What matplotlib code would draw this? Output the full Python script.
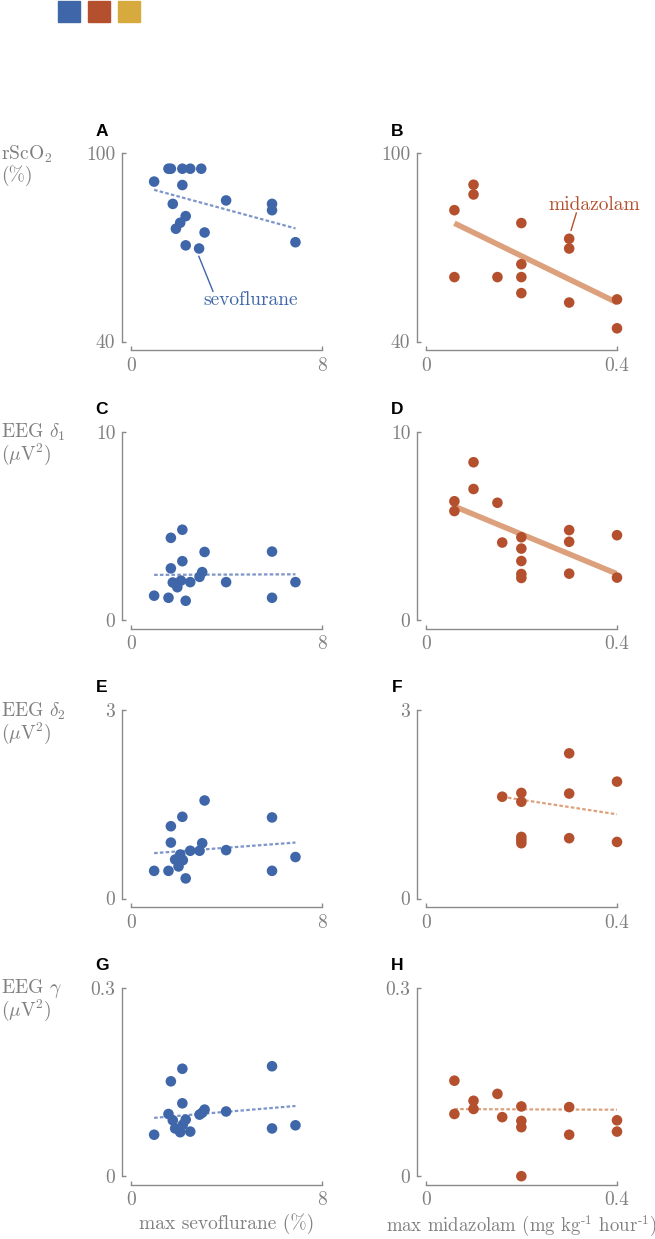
import numpy as np
import matplotlib
matplotlib.use("Agg")
import matplotlib.pyplot as plt
from matplotlib.patches import Rectangle

# ---- data ----
sevo_x_rsco2 = [0.98, 1.58, 1.68, 2.16, 2.49, 2.95, 2.16, 1.76, 3.99, 5.91, 5.91, 2.30, 2.07, 1.89, 3.09, 2.30, 2.86, 6.89]
sevo_rsco2 = [90.9, 95.0, 95.0, 95.0, 95.0, 95.0, 89.8, 83.8, 84.9, 83.8, 81.8, 79.9, 77.8, 75.9, 74.7, 70.6, 69.6, 71.6]

sevo_x_delta1 = [0.98, 1.58, 2.30, 5.91, 6.89, 3.99, 1.76, 1.95, 2.10, 2.49, 2.88, 2.99, 1.68, 2.16, 3.09, 5.91, 1.68, 2.16]
sevo_delta1 = [1.30, 1.19, 1.03, 1.19, 2.02, 2.02, 2.00, 1.75, 2.10, 2.02, 2.30, 2.55, 2.75, 3.13, 3.62, 3.64, 4.37, 4.80]

sevo_x_delta2 = [0.98, 1.58, 2.30, 5.91, 6.89, 3.99, 3.09, 2.16, 1.68, 5.91, 1.68, 2.99, 2.88, 2.49, 1.86, 2.07, 2.18, 2.00]
sevo_delta2 = [0.44, 0.44, 0.32, 0.44, 0.66, 0.77, 1.56, 1.30, 1.15, 1.29, 0.89, 0.88, 0.76, 0.76, 0.62, 0.70, 0.61, 0.51]

sevo_x_gamma = [0.98, 2.16, 1.68, 5.91, 2.16, 3.09, 2.99, 2.88, 3.99, 1.58, 6.89, 5.91, 2.49, 2.30, 1.76, 1.86, 2.07, 2.18]
sevo_gamma = [0.066, 0.171, 0.151, 0.175, 0.116, 0.106, 0.101, 0.098, 0.103, 0.099, 0.081, 0.076, 0.071, 0.090, 0.089, 0.076, 0.070, 0.082]

mida_x_rsco2 = [0.06, 0.06, 0.10, 0.10, 0.15, 0.20, 0.20, 0.20, 0.20, 0.30, 0.30, 0.30, 0.40, 0.40]
mida_rsco2 = [81.8, 60.5, 89.9, 86.8, 60.5, 77.7, 64.6, 60.5, 55.4, 72.7, 69.6, 52.4, 53.4, 44.2]

mida_x_delta1 = [0.06, 0.06, 0.10, 0.10, 0.15, 0.16, 0.20, 0.20, 0.20, 0.20, 0.20, 0.30, 0.30, 0.30, 0.40, 0.40]
mida_delta1 = [6.31, 5.79, 8.38, 6.96, 6.23, 4.12, 4.40, 3.80, 3.14, 2.45, 2.24, 4.78, 4.16, 2.47, 4.51, 2.26]

mida_x_delta2 = [0.16, 0.20, 0.20, 0.20, 0.20, 0.20, 0.30, 0.30, 0.30, 0.40, 0.40]
mida_delta2 = [1.62, 1.68, 1.54, 0.98, 0.93, 0.88, 2.31, 1.67, 0.96, 1.86, 0.90]

mida_x_gamma = [0.06, 0.06, 0.10, 0.10, 0.15, 0.16, 0.20, 0.20, 0.20, 0.20, 0.30, 0.30, 0.40, 0.40]
mida_gamma = [0.152, 0.099, 0.120, 0.107, 0.131, 0.094, 0.111, 0.088, 0.078, 0.0, 0.110, 0.066, 0.089, 0.071]

# regression lines as shown in the figure: (slope, intercept)
sevo_fits = [(-2.077, 90.31), (0.005, 2.40), (0.0285, 0.694), (0.0032, 0.0897)]
mida_fits = [(-74.3, 82.11), (-10.53, 6.67), (-1.157, 1.803), (-0.003, 0.107)]
significant_mida = [True, True, False, False]

row_ylims = [(40, 100), (0, 10), (0, 3), (0, 0.3)]
row_yticklabels = [["40", "100"], ["0", "10"], ["0", "3"], ["0", "0.3"]]
row_ylabels = [
    ("rScO$_2$", "(%)"),
    (r"EEG $\delta_1$", r"($\mu$V$^2$)"),
    (r"EEG $\delta_2$", r"($\mu$V$^2$)"),
    (r"EEG $\gamma$", r"($\mu$V$^2$)"),
]
panel_letters = [("A", "B"), ("C", "D"), ("E", "F"), ("G", "H")]

BLUE = "#3e66a8"
BLUE_FIT = "#7d95c8"
RED = "#b4502d"
ORANGE_FIT = "#dca17c"
GOLD = "#d7aa3d"
GREY = "#808080"

W, H = 655, 1239
plt.rcParams["font.family"] = "cmr10"
plt.rcParams["mathtext.fontset"] = "cm"
plt.rcParams["axes.formatter.use_mathtext"] = True


def px_rect(left, top, right, bottom):
    return [left / W, 1 - bottom / H, (right - left) / W, (bottom - top) / H]


def style_axes(ax, xlim, xticklabels, ylim, yticklabels):
    ax.set_xlim(*xlim)
    ax.set_ylim(*ylim)
    ax.set_xticks(list(xlim))
    ax.set_xticklabels(xticklabels)
    ax.set_yticks(list(ylim))
    ax.set_yticklabels(yticklabels)
    for side in ["top", "right"]:
        ax.spines[side].set_visible(False)
    for side in ["left", "bottom"]:
        ax.spines[side].set_position(("outward", 6))
        ax.spines[side].set_color("#8a8a8a")
        ax.spines[side].set_linewidth(1.0)
    ax.tick_params(direction="in", length=3, width=1.0, color="#8a8a8a",
                   labelcolor=GREY, labelsize=14, pad=5)
    ax.patch.set_alpha(0)


def plot_panel(ax, x, y, fit, color, fit_color, significant):
    x = np.array(x)
    y = np.array(y)
    slope, intercept = fit
    xs = np.array([x.min(), x.max()])
    if significant:
        ax.plot(xs, slope * xs + intercept, color=fit_color, lw=4, solid_capstyle="butt", zorder=2)
    else:
        ax.plot(xs, slope * xs + intercept, color=fit_color, lw=1.6,
                linestyle=(0, (1.6, 1.0)), zorder=2)
    ax.scatter(x, y, s=58, color=color, edgecolors="none", zorder=3, clip_on=False)


def main():
    fig = plt.figure(figsize=(W / 100, H / 100), dpi=100)

    for i, c in enumerate([BLUE, RED, GOLD]):
        fig.patches.append(Rectangle((58 / W + i * 30 / W, 1 - 22 / H), 21.5 / W, 21.5 / H,
                                     transform=fig.transFigure, color=c, figure=fig))

    sevo = [(sevo_x_rsco2, sevo_rsco2), (sevo_x_delta1, sevo_delta1),
            (sevo_x_delta2, sevo_delta2), (sevo_x_gamma, sevo_gamma)]
    mida = [(mida_x_rsco2, mida_rsco2), (mida_x_delta1, mida_delta1),
            (mida_x_delta2, mida_delta2), (mida_x_gamma, mida_gamma)]

    row_tops = [153, 431.7, 710, 987.7]
    row_h = 188.5

    for r in range(4):
        top = row_tops[r]
        bottom = top + row_h
        ax_l = fig.add_axes(px_rect(130.7, top, 322, bottom))
        ax_r = fig.add_axes(px_rect(425.7, top, 617, bottom))

        style_axes(ax_l, (0, 8), ["0", "8"], row_ylims[r], row_yticklabels[r])
        style_axes(ax_r, (0, 0.4), ["0", "0.4"], row_ylims[r], row_yticklabels[r])

        plot_panel(ax_l, *sevo[r], sevo_fits[r], BLUE, BLUE_FIT, False)
        plot_panel(ax_r, *mida[r], mida_fits[r], RED, ORANGE_FIT, significant_mida[r])

        fig.text(102 / W, 1 - (top - 22) / H, panel_letters[r][0], family="Liberation Sans",
                 fontweight="bold", fontsize=12.5, ha="center", va="center")
        fig.text(397 / W, 1 - (top - 22) / H, panel_letters[r][1], family="Liberation Sans",
                 fontweight="bold", fontsize=12.5, ha="center", va="center")

        fig.text(1 / W, 1 - (top + 1) / H, row_ylabels[r][0], color=GREY, fontsize=14,
                 ha="left", va="center")
        fig.text(1 / W, 1 - (top + 23) / H, row_ylabels[r][1], color=GREY, fontsize=14,
                 ha="left", va="center")

        if r == 0:
            ax_l.plot([2.85, 3.44], [67.1, 56.0], color=BLUE, lw=1.0)
            ax_l.text(3.05, 53.1, "sevoflurane", color=BLUE, fontsize=14, va="center", ha="left")
            ax_r.plot([0.315, 0.304], [80.9, 75.4], color=RED, lw=1.0)
            ax_r.text(0.256, 83.5, "midazolam", color=RED, fontsize=14, va="center", ha="left")

        if r == 3:
            ax_l.set_xlabel("max sevoflurane (%)", color=GREY, fontsize=14, labelpad=3)
            ax_r.set_xlabel(r"max midazolam (mg kg$^{\text{-1}}$ hour$^{\text{-1}}$)",
                            color=GREY, fontsize=13.5, labelpad=3)

    fig.savefig("out.png", dpi=100)


if __name__ == "__main__":
    main()
